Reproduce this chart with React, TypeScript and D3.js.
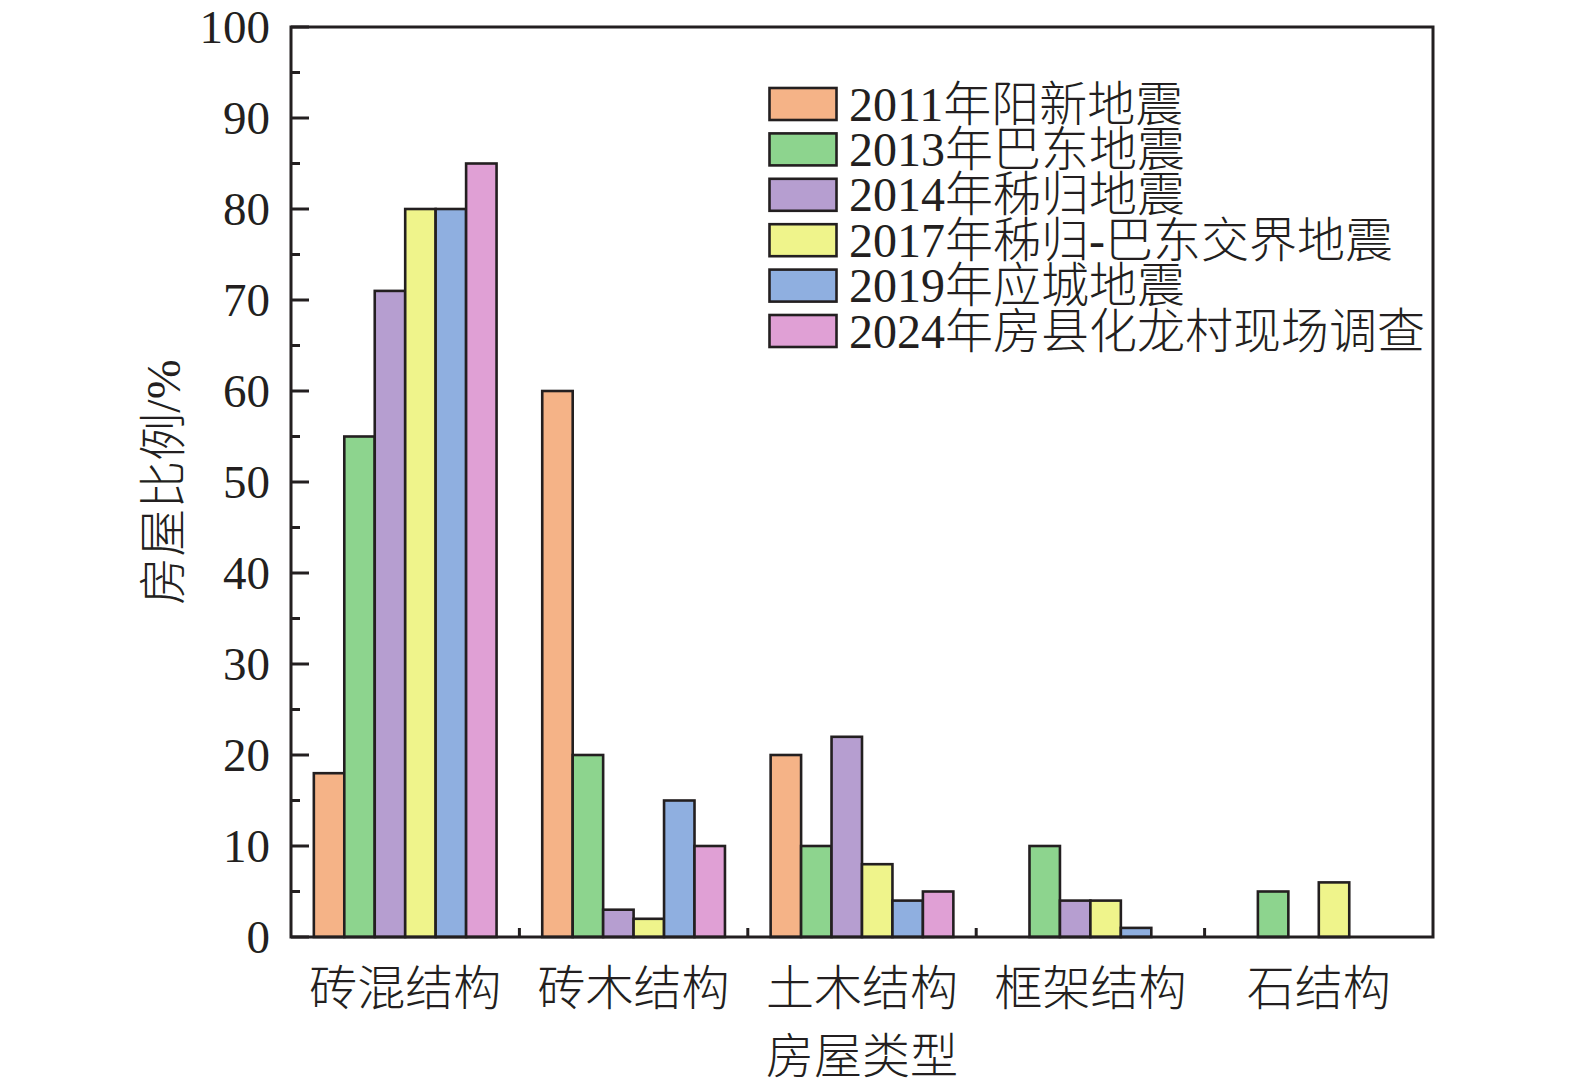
import React, { useEffect } from "react";
import * as d3 from "d3";

const categories = ["砖混结构", "砖木结构", "土木结构", "框架结构", "石结构"];
const seriesNames = [
  "2011年阳新地震",
  "2013年巴东地震",
  "2014年秭归地震",
  "2017年秭归-巴东交界地震",
  "2019年应城地震",
  "2024年房县化龙村现场调查",
];
const seriesColors = ["#F5B387", "#8DD48E", "#B69ED0", "#EFF48B", "#8FAFE0", "#E0A0D5"];
const s2011 = [18, 60, 20, 0, 0];
const s2013 = [55, 20, 10, 10, 5];
const s2014 = [71, 3, 22, 4, 0];
const s2017 = [80, 2, 8, 4, 6];
const s2019 = [80, 15, 4, 1, 0];
const s2024 = [85, 10, 5, 0, 0];
const seriesValues = [s2011, s2013, s2014, s2017, s2019, s2024];
const majorTicks = [0, 10, 20, 30, 40, 50, 60, 70, 80, 90, 100];
const minorTicks = [5, 15, 25, 35, 45, 55, 65, 75, 85, 95];

const W = 1575;
const H = 1081;
const L = 291;
const R = 1433;
const T = 27;
const B = 937;
const INK = "#231f20";
const NUM_FONT = "'Liberation Serif', 'Times New Roman', 'Noto Sans CJK SC', serif";

export default function App() {
  useEffect(() => {
    document.body.style.margin = "0";
    document.body.style.overflow = "hidden";
  }, []);

  const x0 = d3.scaleBand<string>().domain(categories).range([L, R]).paddingInner(0.2).paddingOuter(0.1);
  const x1 = d3.scaleBand<string>().domain(seriesNames).range([0, x0.bandwidth()]).padding(0);
  const y = d3.scaleLinear().domain([0, 100]).range([B, T]);
  const step = x0.step();
  const boundaries = categories.slice(1).map((_, i) => L + step * (i + 1));

  return (
    <svg
      width={W}
      height={H}
      style={{ display: "block", background: "#fff" }}
      fontFamily={NUM_FONT}
      fontWeight={300}
    >
      {/* bars */}
      {categories.map((c, ci) => (
        <g key={c}>
          {seriesNames.map((s, si) => {
            const v = seriesValues[si][ci];
            if (!v) return null;
            return (
              <rect
                key={s}
                x={(x0(c) as number) + (x1(s) as number)}
                y={y(v)}
                width={x1.bandwidth()}
                height={B - y(v)}
                fill={seriesColors[si]}
                stroke={INK}
                strokeWidth={2.6}
              />
            );
          })}
        </g>
      ))}

      {/* frame */}
      <rect x={L} y={T} width={R - L} height={B - T} fill="none" stroke={INK} strokeWidth={3} />

      {/* y ticks */}
      {majorTicks.map((t) => (
        <g key={"mj" + t}>
          <line x1={L} x2={L + 18} y1={y(t)} y2={y(t)} stroke={INK} strokeWidth={3} />
          <text x={L - 21} y={y(t)} textAnchor="end" dominantBaseline="central" fontSize={47} fill={INK}>
            {t}
          </text>
        </g>
      ))}
      {minorTicks.map((t) => (
        <line key={"mn" + t} x1={L} x2={L + 9} y1={y(t)} y2={y(t)} stroke={INK} strokeWidth={3} />
      ))}

      {/* x ticks at group boundaries */}
      {boundaries.map((bx, i) => (
        <line key={"xb" + i} x1={bx} x2={bx} y1={B} y2={B - 9} stroke={INK} strokeWidth={3} />
      ))}

      {/* category labels */}
      {categories.map((c) => (
        <text
          key={"lab" + c}
          x={(x0(c) as number) + x0.bandwidth() / 2}
          y={988}
          textAnchor="middle"
          dominantBaseline="central"
          fontSize={48}
          fill={INK}
        >
          {c}
        </text>
      ))}

      {/* axis titles */}
      <text x={(L + R) / 2} y={1056} textAnchor="middle" dominantBaseline="central" fontSize={48} fill={INK}>
        房屋类型
      </text>
      <text
        transform={`translate(163, ${(T + B) / 2}) rotate(-90)`}
        textAnchor="middle"
        dominantBaseline="central"
        fontSize={48}
        fill={INK}
      >
        房屋比例/%
      </text>

      {/* legend */}
      {seriesNames.map((s, i) => {
        const cy = 104 + i * 45.4;
        return (
          <g key={"lg" + s}>
            <rect x={769.5} y={cy - 16} width={67} height={32} fill={seriesColors[i]} stroke={INK} strokeWidth={2.6} />
            <text x={849} y={cy} dominantBaseline="central" fontSize={48} fill={INK}>
              {s}
            </text>
          </g>
        );
      })}
    </svg>
  );
}
